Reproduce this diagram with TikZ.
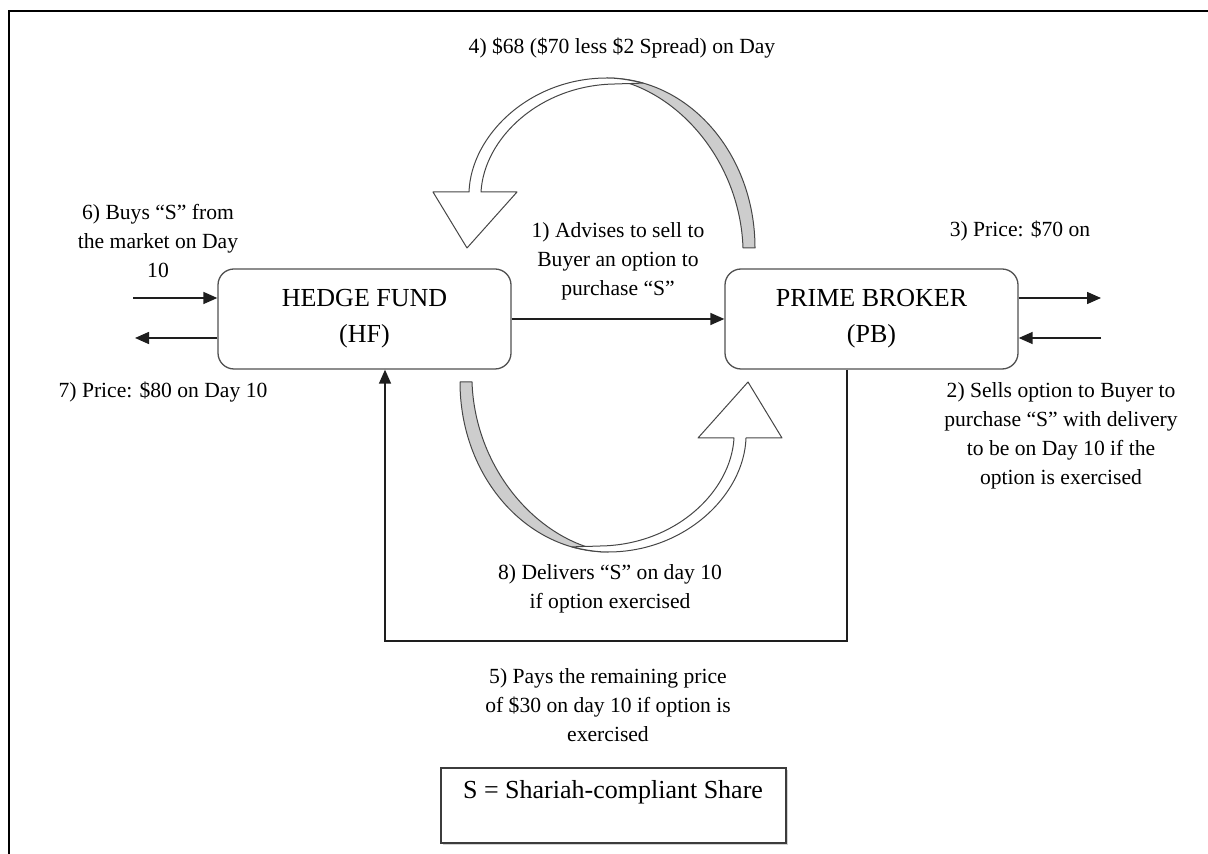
\documentclass[tikz,border=0pt]{standalone}
\usepackage{fontspec}
\setmainfont{Liberation Serif}
\usetikzlibrary{arrows.meta,shadows}

% Curved block arrow: shaded underside near the tail, white front face towards the head
\newcommand{\bentarrow}{%
  \filldraw[swooshback] (607,78) .. controls (689,78) and (755,154) .. (755,248)
     -- (743,248) .. controls (740,160) and (676,88) .. (607,78) -- cycle;
  \filldraw[swooshface] (607,78) .. controls (530,78) and (471,135) .. (469,192)
     -- (433,192) -- (467,248) -- (517,192) -- (481,192)
     .. controls (484,138) and (540,85) .. (615,84)
     .. controls (628,83.5) and (637,83.5) .. (643,83)
     .. controls (628,79.5) and (617,78) .. (607,78) -- cycle;
}

\begin{document}
\begin{tikzpicture}[x=0.5pt,y=-0.5pt,
  box/.style={draw={rgb,255:red,80;green,80;blue,80}, line width=0.65pt,
    rounded corners=8pt, minimum width=146.5pt, minimum height=50pt,
    align=center, inner sep=0pt, font=\fontsize{13}{18}\selectfont},
  lbl/.style={align=center, inner sep=0pt, font=\fontsize{10.8}{14.5}\selectfont},
  conn/.style={line width=0.75pt, draw={rgb,255:red,30;green,30;blue,30},
    -{Triangle[length=7pt,width=6pt]}},
  swooshface/.style={fill=white, draw={rgb,255:red,70;green,70;blue,70}, line width=0.5pt, line join=round},
  swooshback/.style={fill={rgb,255:red,205;green,205;blue,205}, draw={rgb,255:red,70;green,70;blue,70}, line width=0.5pt, line join=round},
  legendbox/.style={draw={rgb,255:red,60;green,60;blue,60}, line width=0.6pt, fill=white,
    minimum width=172.5pt, minimum height=37.5pt, inner sep=0pt,
    drop shadow={shadow xshift=1.2pt, shadow yshift=-1.2pt, fill=gray!70}}
]
\useasboundingbox (0,0) rectangle (1208,854);

% outer frame
\draw[line width=1.25pt] (9,854) -- (9,11) -- (1208,11);

% parties
\node[box] (hf) at (364.5,319) {HEDGE FUND\\(HF)};
\node[box] (pb) at (871.5,319) {PRIME BROKER\\(PB)};

% market flows
\coordinate (hfin) at (133,298);
\coordinate (hfout) at (135,338);
\coordinate (pbout) at (1101,298);
\coordinate (pbin) at (1101,338);
\draw[conn] (hfin) -- (hfin -| hf.west);
\draw[conn] (hfout -| hf.west) -- (hfout);
\draw[conn] (pbout -| pb.east) -- (pbout);
\draw[conn] (pbin) -- (pbin -| pb.east);

% advice
\draw[conn] (hf.east) -- (pb.west);

% payment loop under the boxes
\coordinate (payx) at (847,641);
\coordinate (recx) at (385,641);
\draw[conn] (pb.south -| payx) -- (payx) -- (recx) -- (hf.south -| recx);

% curved block arrows
\bentarrow
\begin{scope}[rotate around={180:(607.5,315)}]
  \bentarrow
\end{scope}

% legend
\node[legendbox] (legend) at (613.5,805.5) {};
\node[inner sep=0pt, font=\fontsize{13}{16}\selectfont] (legendtext) at (613,792) {S = Shariah-compliant Share};

% step labels
\node[lbl] (t4) at (622,48) {4) \$68 (\$70 less \$2 Spread) on Day};
\node[lbl] (t6) at (158,241) {6) Buys “S” from\\the market on Day\\10};
\node[lbl] (t1) at (618,261) {1) Advises to sell to\\Buyer an option to\\purchase “S”};
\node[lbl] (t3) at (1020,231) {3) Price: \$70 on};
\node[lbl] (t7) at (163,392) {7) Price: \$80 on Day 10};
\node[lbl] (t2) at (1061,435.5) {2) Sells option to Buyer to\\purchase “S” with delivery\\to be on Day 10 if the\\option is exercised};
\node[lbl] (t8) at (610,589) {8) Delivers “S” on day 10\\if option exercised};
\node[lbl] (t5) at (608,705) {5) Pays the remaining price\\of \$30 on day 10 if option is\\exercised};
\end{tikzpicture}
\end{document}
